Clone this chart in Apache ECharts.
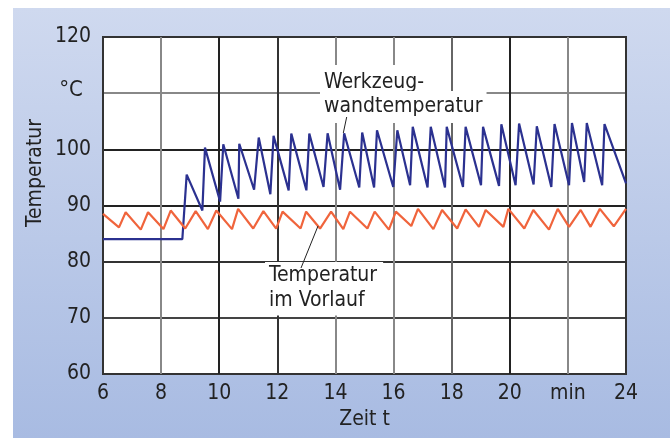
<!DOCTYPE html>
<html><head><meta charset="utf-8">
<script src="https://cdn.jsdelivr.net/npm/echarts@6/dist/echarts.min.js"></script>
<style>
html,body{margin:0;padding:0;background:#fff;}
#wrap{position:relative;width:670px;height:439px;overflow:hidden;}
#bg{position:absolute;left:13px;top:8px;width:657px;height:430px;background:linear-gradient(to bottom,#cfd9ef,#a8bbe2);}
#chart{position:absolute;left:0;top:0;width:670px;height:439px;}
</style></head>
<body><div id="wrap"><div id="bg"></div><div id="chart"></div></div>
<script>
// ---- data ----
const xTickLabels = ['6','8','10','12','14','16','18','20','min','24'];
const yTickLabels = ['60','70','80','90','100','','120'];
const wallTime = [6, 8.73, 8.88, 9.42, 9.51, 10.03, 10.14, 10.66, 10.69, 11.20, 11.36, 11.76, 11.87, 12.39, 12.48, 13.0, 13.1, 13.59, 13.73, 14.16, 14.30, 14.82, 14.92, 15.33, 15.43, 15.99, 16.13, 16.57, 16.66, 17.17, 17.28, 17.77, 17.83, 18.39, 18.48, 19.01, 19.08, 19.63, 19.71, 20.20, 20.32, 20.82, 20.93, 21.43, 21.54, 22.04, 22.14, 22.56, 22.65, 23.18, 23.26, 24.0];
const wallTemp = [84, 84, 95.5, 89.1, 100.3, 90.7, 100.9, 91.2, 101.0, 92.8, 102.1, 92.0, 102.4, 92.7, 102.8, 92.7, 102.8, 93.3, 102.85, 92.8, 102.85, 93.2, 103.0, 93.2, 103.4, 93.3, 103.4, 93.6, 104.0, 93.2, 104.0, 93.2, 104.0, 93.3, 104.0, 93.6, 104.0, 93.5, 104.45, 93.6, 104.6, 93.75, 104.1, 93.3, 104.5, 93.6, 104.7, 94.2, 104.7, 93.6, 104.5, 93.95];
const flowTime = [6.0, 6.55, 6.78, 7.30, 7.55, 8.08, 8.33, 8.83, 9.19, 9.61, 9.90, 10.44, 10.65, 11.17, 11.52, 11.96, 12.18, 12.80, 12.99, 13.47, 13.85, 14.27, 14.50, 15.10, 15.35, 15.84, 16.08, 16.61, 16.84, 17.37, 17.67, 18.19, 18.48, 18.94, 19.17, 19.78, 19.95, 20.50, 20.81, 21.35, 21.65, 22.04, 22.44, 22.78, 23.10, 23.58, 24.0];
const flowTemp = [88.5, 86.1, 88.8, 85.7, 88.8, 85.8, 89.1, 85.9, 89.0, 85.8, 89.1, 85.8, 89.4, 85.9, 89.0, 85.9, 88.9, 85.9, 88.9, 85.9, 88.9, 85.8, 88.9, 85.9, 88.9, 85.7, 88.9, 86.35, 89.4, 85.8, 89.2, 85.9, 89.3, 86.2, 89.2, 86.2, 89.4, 85.9, 89.2, 85.7, 89.4, 86.2, 89.2, 86.2, 89.4, 86.3, 89.4];

const FONT = "'Liberation Sans Narrow','DejaVu Sans Condensed',sans-serif";
const pair = (a, b) => a.map((v, i) => [v, b[i]]);

const chart = echarts.init(document.getElementById('chart'), null, {renderer: 'canvas'});
chart.setOption({
  backgroundColor: 'transparent',
  animation: false,
  grid: {left: 103, top: 37, width: 523, height: 337, show: true, backgroundColor: '#ffffff', borderColor: '#333', borderWidth: 2},
  xAxis: {
    type: 'value', min: 6, max: 24, interval: 2,
    axisLine: {show: false}, axisTick: {show: false},
    axisLabel: {margin: 9, fontFamily: FONT, fontSize: 21, color: '#222',
      formatter: v => xTickLabels[Math.round((v - 6) / 2)]},
    splitLine: {show: true, lineStyle: {width: 2, color: ['#333', '#888', '#222', '#333', '#888', '#888', '#666', '#222', '#888', '#333']}},
    name: 'Zeit t', nameLocation: 'middle', nameGap: 34,
    nameTextStyle: {fontFamily: FONT, fontSize: 21, color: '#222'}
  },
  yAxis: {
    type: 'value', min: 60, max: 120, interval: 10,
    axisLine: {show: false}, axisTick: {show: false},
    axisLabel: {margin: 12, fontFamily: FONT, fontSize: 21, color: '#222',
      formatter: v => yTickLabels[Math.round((v - 60) / 10)]},
    splitLine: {show: true, lineStyle: {width: 2, color: ['#333', '#444', '#333', '#222', '#222', '#888', '#333']}}
  },
  series: [
    {type: 'line', data: pair(wallTime, wallTemp), showSymbol: false, z: 3,
     lineStyle: {color: '#2b3190', width: 2.2}},
    {type: 'line', data: pair(flowTime, flowTemp), showSymbol: false, z: 3,
     lineStyle: {color: '#f0643c', width: 2.2}}
  ],
  graphic: [
    {type: 'text', z: 1, x: 320, y: 83, style: {text: 'Werkzeug-', font: '21px ' + FONT, fill: '#222', textVerticalAlign: 'middle', backgroundColor: '#fff', padding: [9, 8, 6, 4]}},
    {type: 'text', z: 1, x: 320, y: 107, style: {text: 'wandtemperatur', font: '21px ' + FONT, fill: '#222', textVerticalAlign: 'middle', backgroundColor: '#fff', padding: [2, 4, 9, 4]}},
    {type: 'text', z: 1, x: 265, y: 276, style: {text: 'Temperatur', font: '21px ' + FONT, fill: '#222', textVerticalAlign: 'middle', backgroundColor: '#fff', padding: [5, 6, 2, 4]}},
    {type: 'text', z: 1, x: 265, y: 301, style: {text: 'im Vorlauf', font: '21px ' + FONT, fill: '#222', textVerticalAlign: 'middle', backgroundColor: '#fff', padding: [2, 6, 6, 4]}},
    {type: 'line', z: 4, shape: {x1: 346.7, y1: 117, x2: 343.3, y2: 133}, style: {stroke: '#222', lineWidth: 1}},
    {type: 'line', z: 4, shape: {x1: 301, y1: 268, x2: 318, y2: 226}, style: {stroke: '#222', lineWidth: 1}},
    {type: 'text', z: 5, x: 71, y: 90, style: {text: '°C', font: '22px ' + FONT, fill: '#222', textAlign: 'center', textVerticalAlign: 'middle'}},
    {type: 'text', z: 5, x: 36, y: 173, rotation: Math.PI / 2, style: {text: 'Temperatur', font: '21px ' + FONT, fill: '#222', textAlign: 'center', textVerticalAlign: 'middle'}}
  ]
});
</script></body></html>
